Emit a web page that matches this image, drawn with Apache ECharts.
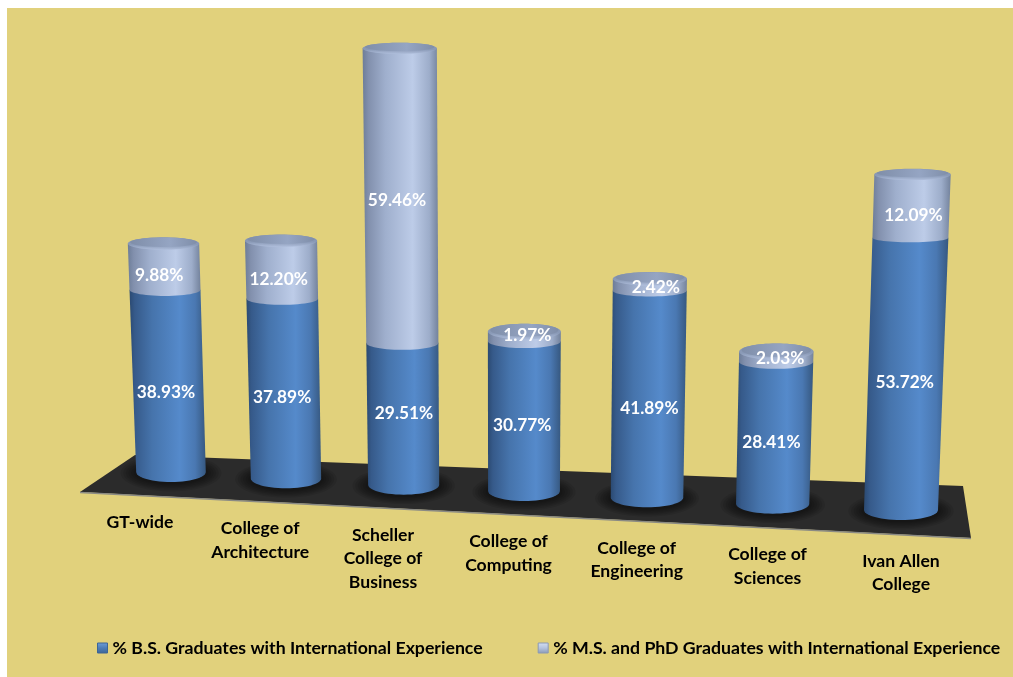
<!DOCTYPE html>
<html><head><meta charset="utf-8">
<style>html,body{margin:0;padding:0;background:#fff}#c{width:1013px;height:677px}</style>
<script src="https://cdn.jsdelivr.net/npm/echarts@6/dist/echarts.min.js"></script>
</head><body><div id="c"></div>
<script>
const categories = ['GT-wide','College of\nArchitecture','Scheller\nCollege of\nBusiness','College of\nComputing','College of\nEngineering','College of\nSciences','Ivan Allen\nCollege'];
const bsValues = [38.93,37.89,29.51,30.77,41.89,28.41,53.72];
const msValues = [9.88,12.20,59.46,1.97,2.42,2.03,12.09];
const bsName = '% B.S. Graduates with International Experience';
const msName = '% M.S. and PhD Graduates with International Experience';

// label placement tweaks (px), separate from the data
const bsNudge = [[-2,12],[-2,9],[1,0],[-2,9],[1,14],[-3,10],[-1,8]];
const msNudge = [[-5,9],[-3,10],[-4,2],[3,-1],[6,3],[4,2],[2,9]];

const FONT = 'Lato, "Open Sans", sans-serif';
const GL = 171, GW = 730, GB = 510, PX = 5; // grid: 5 px per percent
const chart = echarts.init(document.getElementById('c'));

// perspective warp of the flat grid onto the slanted 3D-looking floor
function warp(p) {
  const t = (p[0] - GL) / GW, h = GB - p[1], v = h / PX;
  const x = 171 + 682 * t + 48 * t * t + (-0.154 + 0.329 * t) * v;
  const s = 4.68 + 0.38 * t + 0.0025 * Math.max(0, v - 50);
  const y = 472 + 38 * t - v * s;
  return [x, y, t, v];
}
const rxAt = (t, v) => 34.8 + 2.2 * t + 0.018 * v;
const ryAt = v => Math.max(4.5, 10 - 0.1 * v);
function hGrad(stops){ return new echarts.graphic.LinearGradient(0,0,1,0,stops.map(c=>({offset:c[0],color:c[1]}))); }
const blueFill = hGrad([[0,'#2b4a72'],[0.07,'#365a8a'],[0.3,'#4674ac'],[0.66,'#558acb'],[0.86,'#4a78b2'],[1,'#365880']]);
const lightFill = hGrad([[0,'#6d7d98'],[0.08,'#8290ad'],[0.3,'#9fafcd'],[0.66,'#bdcce8'],[0.88,'#9dadca'],[1,'#73829c']]);

function arc(cx, cy, rx, ry) {
  const pts = [];
  for (let k = 0; k <= 28; k++) { const a = Math.PI * k / 28; pts.push([cx - rx * Math.cos(a), cy + ry * Math.sin(a)]); }
  return pts;
}
function makeRender(fill, isTop, names, nudge) {
  return function (params, api) {
    const i = api.value(0), from = api.value(1), to = api.value(2);
    const a = warp(api.coord([i, from])), b = warp(api.coord([i, to]));
    const t = a[2];
    const ra = rxAt(t, from), rb = rxAt(t, to), ry = ryAt(from);
    const kids = [];
    if (!isTop) {
      for (let k = 6; k >= 1; k--) {
        kids.push({type:'ellipse',shape:{cx:a[0],cy:a[1]+1,rx:ra+k*2.6,ry:ry+k*1.4},style:{fill:'rgba(0,0,0,0.09)'}});
      }
    }
    const pts = arc(a[0], a[1], ra, ry).concat([[b[0]+rb,b[1]],[b[0]-rb,b[1]]]);
    kids.push({type:'polygon',shape:{points:pts},style:{fill:fill}});
    if (isTop) {
      const rc = ryAt(to) + 1.2;
      kids.push({type:'ellipse',shape:{cx:b[0],cy:b[1],rx:rb,ry:rc},
        style:{fill:new echarts.graphic.LinearGradient(0,0,0,1,[{offset:0,color:'#8594b0'},{offset:0.6,color:'#8a9ab7'},{offset:1,color:'#b0bfdc'}])}});
      kids.push({type:'ellipse',shape:{cx:b[0],cy:b[1]-1.4,rx:rb-2.5,ry:rc-1.6},
        style:{fill:new echarts.graphic.LinearGradient(0,0,1,0,[{offset:0,color:'#7f8ea9'},{offset:0.6,color:'#95a5c3'},{offset:1,color:'#7f8ea9'}])}});
    }
    const m = warp(api.coord([i, (from + to) / 2]));
    const n = nudge[i];
    kids.push({type:'text',z2:10,style:{text:names[i].toFixed(2)+'%',x:m[0]+n[0],y:m[1]+n[1],align:'center',verticalAlign:'middle',
      font:'bold 17.3px '+FONT,fill:'#fff'}});
    if (!isTop) {
      const ti = i / 6;
      kids.push({type:'text',style:{text:categories[i],x:a[0]-31+31*ti,y:510.5+39*ti,align:'center',verticalAlign:'top',
        font:'bold 17.6px '+FONT,lineHeight:23.5,fill:'#000'}});
    }
    return {type:'group',children:kids};
  };
}
const bsData = bsValues.map((v,i)=>[i,0,v]);
const msData = msValues.map((v,i)=>[i,bsValues[i],bsValues[i]+v]);

chart.setOption({
  animation:false,
  backgroundColor:'#fff',
  graphic:[
    {type:'rect',z:-5,silent:true,shape:{x:7,y:8,width:1006,height:669},style:{fill:'#e1d17c'}},
    {type:'polygon',z:-4,silent:true,shape:{points:[[80,492],[135,455],[963,486],[971,538]]},style:{fill:'#2b2b2b'}},
    {type:'polyline',z:-3,silent:true,shape:{points:[[80,492.5],[971,538.5]]},style:{stroke:'#8a8a84',lineWidth:1.5,fill:null}}
  ],
  grid:{left:GL,width:GW,top:GB-100*PX,height:100*PX},
  xAxis:{type:'category',data:categories,boundaryGap:false,axisLine:{show:false},axisTick:{show:false},axisLabel:{show:false},splitLine:{show:false}},
  yAxis:{type:'value',min:0,max:100,axisLine:{show:false},axisTick:{show:false},axisLabel:{show:false},splitLine:{show:false}},
  legend:{
    top:639,left:97,padding:0,itemWidth:10,itemHeight:10,itemGap:55,icon:'rect',
    textStyle:{fontFamily:FONT,fontWeight:'bold',fontSize:17.7,color:'#000'},
    data:[
      {name:bsName,itemStyle:{color:new echarts.graphic.LinearGradient(0,0,0,1,[{offset:0,color:'#6f9fd8'},{offset:0.5,color:'#4d7db8'},{offset:1,color:'#3c6596'}]),borderColor:'#3c6596',borderWidth:1}},
      {name:msName,itemStyle:{color:new echarts.graphic.LinearGradient(0,0,0,1,[{offset:0,color:'#d5e0f2'},{offset:0.5,color:'#b4c3de'},{offset:1,color:'#8a99b5'}]),borderColor:'#8a99b5',borderWidth:1}}
    ]
  },
  series:[
    {type:'custom',name:bsName,clip:false,coordinateSystem:'cartesian2d',itemStyle:{color:'#4a78b0'},encode:{x:0,y:[1,2]},data:bsData,renderItem:makeRender(blueFill,false,bsValues,bsNudge)},
    {type:'custom',name:msName,clip:false,coordinateSystem:'cartesian2d',itemStyle:{color:'#aebdd9'},encode:{x:0,y:[1,2]},data:msData,renderItem:makeRender(lightFill,true,msValues,msNudge)}
  ]
});
</script></body></html>
